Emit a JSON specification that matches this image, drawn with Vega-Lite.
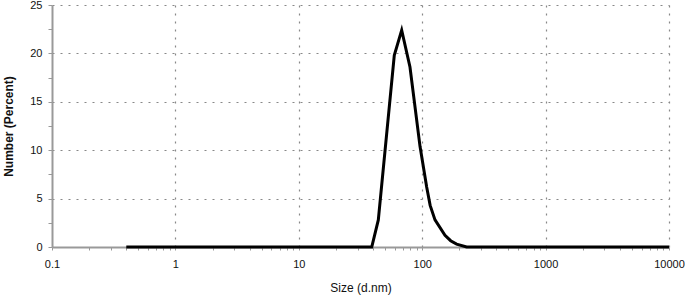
{
  "$schema": "https://vega.github.io/schema/vega-lite/v6.json",
  "width": 617,
  "height": 242,
  "autosize": "none",
  "padding": {"left": 52, "top": 5, "right": 16, "bottom": 51},
  "background": "white",
  "config": {
    "view": {"stroke": null},
    "font": "Liberation Sans"
  },
  "data": {
    "values": [
      {"size": 0.4, "number": 0},
      {"size": 1, "number": 0},
      {"size": 10, "number": 0},
      {"size": 30, "number": 0},
      {"size": 39, "number": 0},
      {"size": 44.1, "number": 2.8},
      {"size": 59.4, "number": 19.8},
      {"size": 68.2, "number": 22.4},
      {"size": 79.6, "number": 18.6},
      {"size": 96, "number": 10.4},
      {"size": 108.7, "number": 6.2},
      {"size": 116, "number": 4.3},
      {"size": 127, "number": 2.8},
      {"size": 153, "number": 1.2},
      {"size": 170, "number": 0.65},
      {"size": 190, "number": 0.3},
      {"size": 229, "number": 0},
      {"size": 1000, "number": 0},
      {"size": 10000, "number": 0}
    ]
  },
  "mark": {"type": "line", "color": "black", "strokeWidth": 3, "strokeJoin": "miter"},
  "encoding": {
    "x": {
      "field": "size",
      "type": "quantitative",
      "scale": {"type": "log", "domain": [0.1, 10000], "nice": false},
      "axis": {
        "title": "Size (d.nm)",
        "titleFont": "Liberation Sans",
        "titleFontSize": 12,
        "titleFontWeight": "normal",
        "titleColor": "#111",
        "titlePadding": 13,
        "values": [0.1,0.2,0.3,0.4,0.5,0.6,0.7,0.8,0.9,1,2,3,4,5,6,7,8,9,10,20,30,40,50,60,70,80,90,100,200,300,400,500,600,700,800,900,1000,2000,3000,4000,5000,6000,7000,8000,9000,10000],
        "labelExpr": "abs(log(datum.value)/LN10 - round(log(datum.value)/LN10)) < 0.001 ? format(datum.value, '~g') : ''",
        "labelFontSize": 11,
        "labelColor": "#111",
        "labelPadding": 8,
        "labelFlush": false,
        "labelOverlap": false,
        "domainColor": "#999",
        "domainWidth": 2,
        "tickColor": "#999",
        "tickSize": 3,
        "tickOffset": 0,
        "grid": true,
        "gridColor": "#888",
        "gridDash": [2, 6],
        "gridWidth": 1.2,
        "gridOpacity": {"condition": {"test": "abs(log(datum.value)/LN10 - round(log(datum.value)/LN10)) < 0.001 && datum.value > 0.15", "value": 1}, "value": 0}
      }
    },
    "y": {
      "field": "number",
      "type": "quantitative",
      "scale": {"domain": [0, 25], "nice": false},
      "axis": {
        "title": "Number (Percent)",
        "titleFont": "Liberation Sans",
        "titleFontSize": 12,
        "titleFontWeight": "bold",
        "titleColor": "#111",
        "titlePadding": 14,
        "values": [0, 2.5, 5, 7.5, 10, 12.5, 15, 17.5, 20, 22.5, 25],
        "labelExpr": "datum.value % 5 == 0 ? datum.label : ''",
        "labelFontSize": 11,
        "labelColor": "#111",
        "labelPadding": 6,
        "labelFlush": false,
        "domainColor": "#999",
        "domainWidth": 2,
        "tickColor": "#999",
        "tickSize": 4,
        "grid": true,
        "gridColor": "#888",
        "gridDash": [2, 6],
        "gridWidth": 1.2,
        "gridOpacity": {"condition": {"test": "datum.value % 5 == 0 && datum.value > 0", "value": 1}, "value": 0}
      }
    }
  }
}
